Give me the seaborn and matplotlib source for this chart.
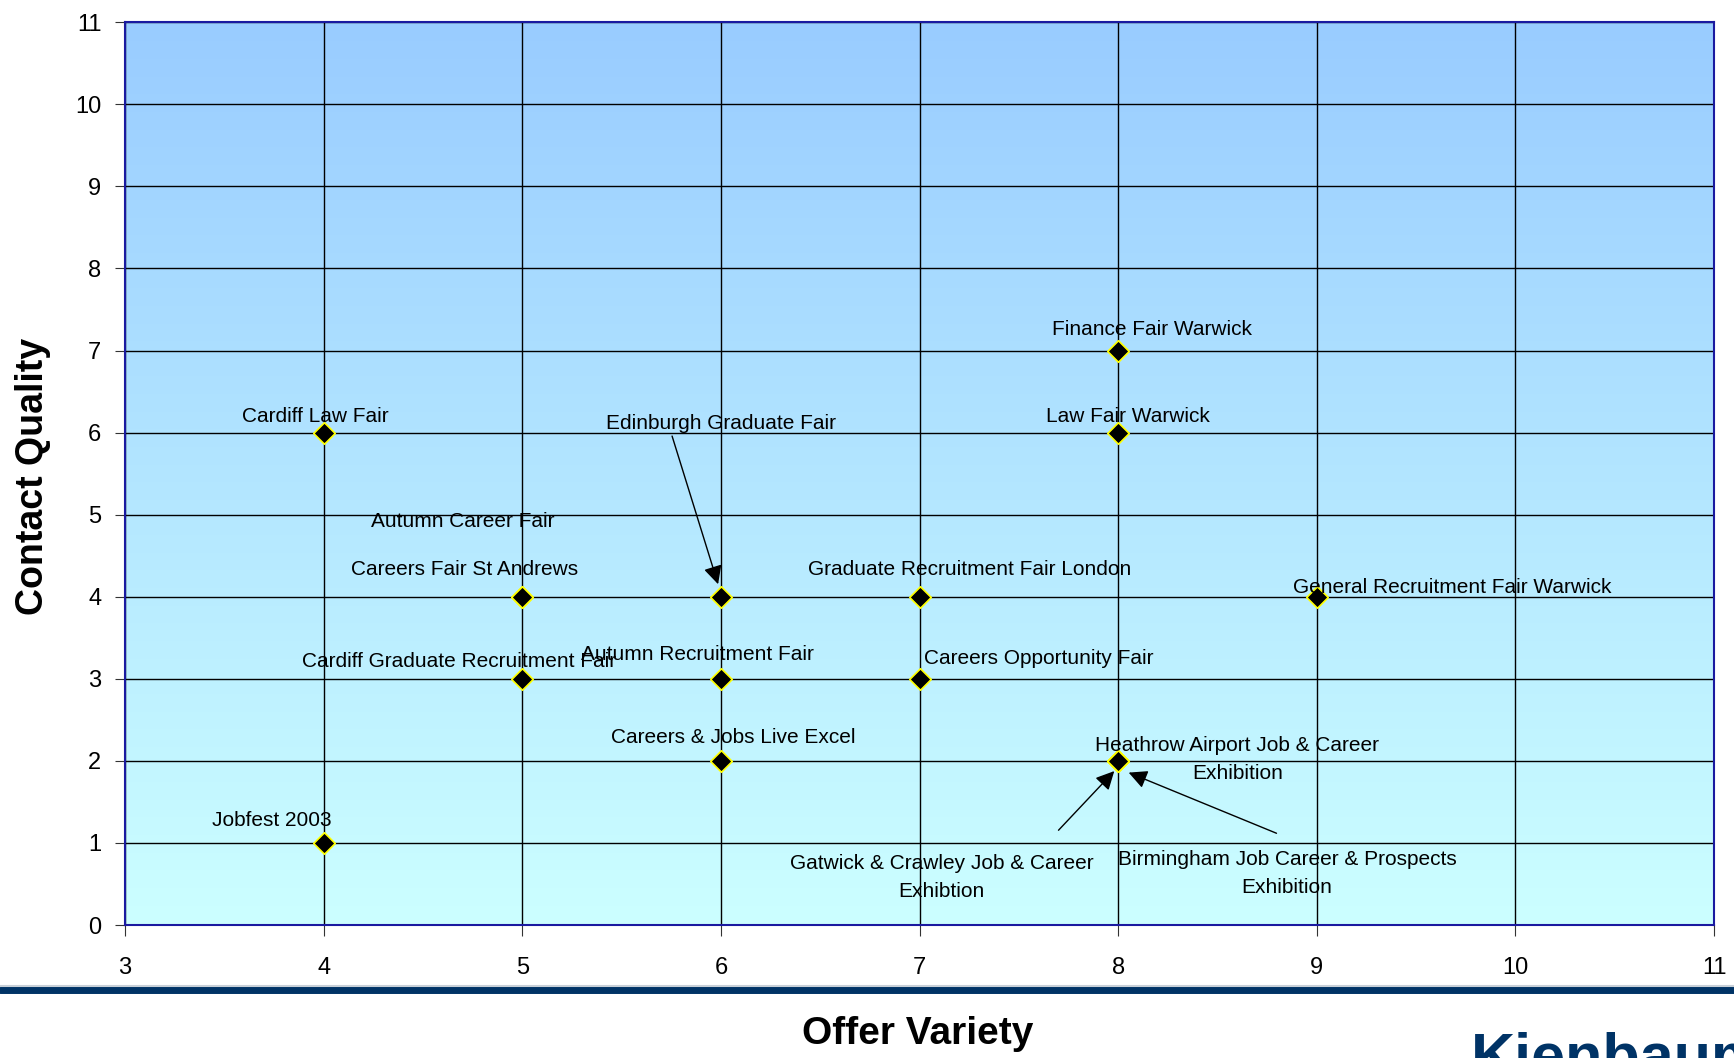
import numpy as np
import pandas as pd
import matplotlib.pyplot as plt
import seaborn as sns

# --- Data ---
fairs = ['Cardiff Law Fair', 'Jobfest 2003', 'Autumn Career Fair', 'Careers Fair St Andrews',
         'Cardiff Graduate Recruitment Fair', 'Autumn Recruitment Fair', 'Edinburgh Graduate Fair',
         'Careers & Jobs Live Excel', 'Graduate Recruitment Fair London', 'Careers Opportunity Fair',
         'Finance Fair Warwick', 'Law Fair Warwick', 'General Recruitment Fair Warwick',
         'Heathrow Airport Job & Career\nExhibition', 'Gatwick & Crawley Job & Career\nExhibtion',
         'Birmingham Job Career & Prospects\nExhibition']
offer_variety = [4, 4, 5, 5, 5, 6, 6, 6, 7, 7, 8, 8, 9, 8, 8, 8]
contact_quality = [6, 1, 4, 4, 3, 3, 4, 2, 4, 3, 7, 6, 4, 2, 2, 2]

# label placement (data coords), and which labels get an arrow
label_xy = [(3.96, 6.20), (3.74, 1.27), (4.70, 4.92), (4.71, 4.33), (4.68, 3.21), (5.88, 3.29),
            (6.00, 6.11), (6.06, 2.28), (7.25, 4.33), (7.60, 3.25), (8.17, 7.25), (8.05, 6.19),
            (9.68, 4.11), (8.60, 2.02), (7.11, 0.58), (8.85, 0.63)]
arrows = {6: ((5.75, 5.99), (5.99, 4.12)),
          14: ((7.69, 1.13), (7.99, 1.90)),
          15: ((8.81, 1.105), (8.04, 1.87))}

df = pd.DataFrame({'Fair': fairs, 'Offer Variety': offer_variety, 'Contact Quality': contact_quality})

sns.set_style('white')
plt.rcParams['font.family'] = ['Liberation Sans', 'DejaVu Sans']
plt.rcParams['text.color'] = 'black'
plt.rcParams['xtick.color'] = 'black'
plt.rcParams['ytick.color'] = 'black'

fig = plt.figure(figsize=(17.34, 10.58), dpi=100)
ax = fig.add_axes([0.0721, 0.1257, 0.9885 - 0.0721, 0.979 - 0.1257])

# gradient background
top = np.array([153, 204, 255]) / 255
bot = np.array([204, 255, 255]) / 255
t = np.linspace(0, 1, 256)[:, None]
grad = (top[None, :] * (1 - t) + bot[None, :] * t)[:, None, :]
ax.imshow(grad, extent=[3, 11, 0, 11], aspect='auto', zorder=0, interpolation='bilinear')

sns.scatterplot(data=df, x='Offer Variety', y='Contact Quality', marker='D', color='black',
                edgecolor='#ffff00', linewidth=1.2, s=120, zorder=5, ax=ax, legend=False)

for i, name in enumerate(fairs):
    lx, ly = label_xy[i]
    ax.text(lx, ly, name, ha='center', va='center', fontsize=15, color='black',
            linespacing=1.6, zorder=6)

for i, (tail, head) in arrows.items():
    ax.annotate('', xy=head, xytext=tail,
                arrowprops=dict(arrowstyle='-|>', color='black', lw=1, mutation_scale=28),
                zorder=6)

ax.set_xlim(3, 11)
ax.set_ylim(0, 11)
ax.set_xticks(range(3, 12))
ax.set_yticks(range(0, 12))
ax.grid(True, color='black', linewidth=1)
for line in ax.get_xgridlines() + ax.get_ygridlines():
    line.set_zorder(1)
for sp in ax.spines.values():
    sp.set_color('#1a1aa0')
    sp.set_linewidth(1.5)
ax.tick_params(axis='x', length=8, pad=15, labelsize=17, direction='out', bottom=True,
               color='#333333', labelcolor='black')
ax.tick_params(axis='y', length=7, pad=10, labelsize=17, direction='out', left=True,
               color='#333333', labelcolor='black')
ax.set_xlabel('')
ax.set_ylabel('')

fig.text(0.019, 0.55, 'Contact Quality', rotation=90, ha='center', va='center',
         fontsize=27, fontweight='bold', color='black')
fig.text(0.529, 0.0227, 'Offer Variety', ha='center', va='center', fontsize=28,
         fontweight='bold', color='black')

# footer rule and logo (logo is cut off at the page edge, as in the source slide)
fig.add_artist(plt.Line2D([0, 1], [1 - 986 / 1058] * 2, color='#c8d0d8', linewidth=1.5))
fig.add_artist(plt.Line2D([0, 1], [1 - 990 / 1058] * 2, color='#003366', linewidth=5))
fig.text(0.848, 1 - 1032 / 1058, 'Kienbaum', ha='left', va='top', fontsize=44,
         fontweight='bold', color='#003366')

fig.savefig('out.png', dpi=100)
